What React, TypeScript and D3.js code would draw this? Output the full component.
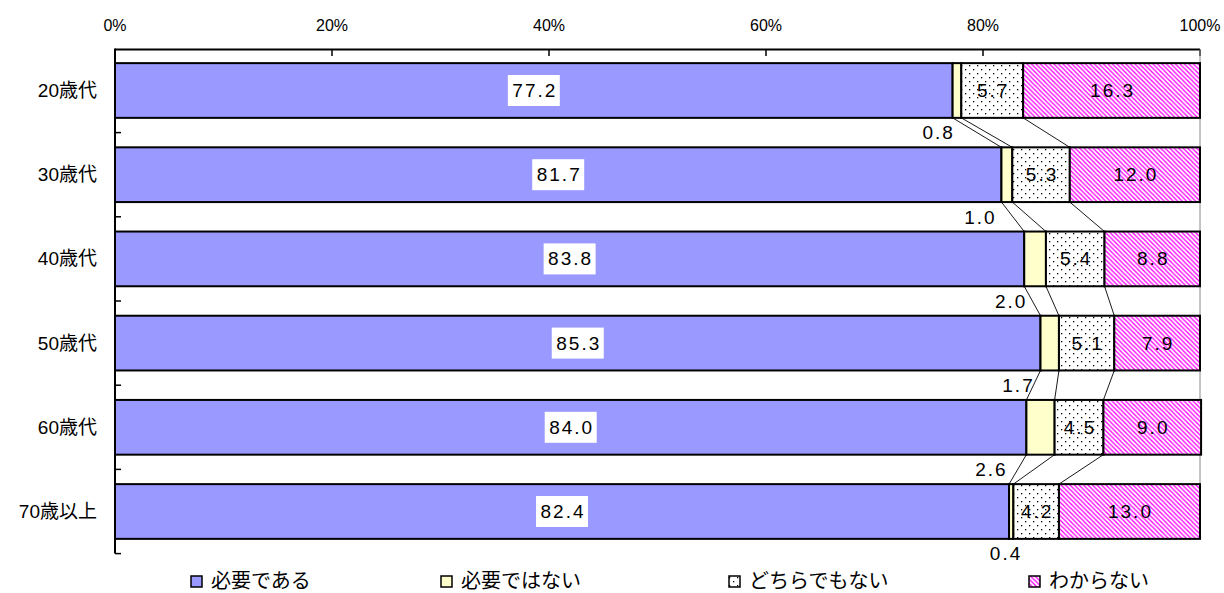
import React from "react";
import * as d3 from "d3";

// Age groups and answer shares (%)
const categories = ["20歳代", "30歳代", "40歳代", "50歳代", "60歳代", "70歳以上"];
const seriesNames = ["必要である", "必要ではない", "どちらでもない", "わからない"];
const needed = [77.2, 81.7, 83.8, 85.3, 84.0, 82.4];
const notNeeded = [0.8, 1.0, 2.0, 1.7, 2.6, 0.4];
const neither = [5.7, 5.3, 5.4, 5.1, 4.5, 4.2];
const unknown = [16.3, 12.0, 8.8, 7.9, 9.0, 13.0];
const xTicks = [0, 20, 40, 60, 80, 100];

// horizontal nudge (px) for the small "必要ではない" labels drawn under each bar
const smallLabelShift = [-15, -22, -14, -23, -36, -4];

const W = 1224;
const H = 593;
const left = 115;
const right = 1200;
const top = 48.4;
const bottom = 553.6;

const fills = ["#9999FF", "#FFFFCC", "url(#dots)", "url(#hatch)"];
const legendX = [191, 441, 729, 1029];

export default function App() {
  const x = d3.scaleLinear().domain([0, 100]).range([left, right]);
  const y = d3
    .scaleBand<string>()
    .domain(categories)
    .range([top, bottom])
    .paddingInner(0.35)
    .paddingOuter(0.175);
  const step = y.step();
  const bw = y.bandwidth();

  const values = categories.map((_, i) => [needed[i], notNeeded[i], neither[i], unknown[i]]);
  const rows = values.map((v, i) => {
    let acc = 0;
    const segs = v.map((val, k) => {
      const s = { k, v: val, x0: acc, x1: acc + val };
      acc += val;
      return s;
    });
    return { cat: categories[i], segs };
  });

  const font = "'Liberation Sans', Arial, 'Noto Sans CJK JP', sans-serif";
  const jpFont = "'Noto Sans CJK JP', 'Liberation Sans', sans-serif";

  // series lines between adjacent bars
  const seriesLines: { x1: number; y1: number; x2: number; y2: number }[] = [];
  for (let i = 0; i < rows.length - 1; i++) {
    for (let k = 0; k < 3; k++) {
      seriesLines.push({
        x1: x(rows[i].segs[k].x1),
        y1: (y(rows[i].cat) as number) + bw,
        x2: x(rows[i + 1].segs[k].x1),
        y2: y(rows[i + 1].cat) as number,
      });
    }
  }

  const boundaryYs = categories.map((c) => (y(c) as number) - step * 0.175).slice(1);
  boundaryYs.push(bottom);

  return (
    <svg
      width={W}
      height={H}
      style={{ position: "absolute", left: 0, top: 0, background: "#fff" }}
    >
      <defs>
        <pattern id="dots" width="8" height="8" patternUnits="userSpaceOnUse">
          <rect width="8" height="8" fill="#fff" />
          <rect x="1" y="1" width="1.3" height="1.3" fill="#000" />
          <rect x="5" y="5" width="1.3" height="1.3" fill="#000" />
        </pattern>
        <pattern id="hatch" width="4.5" height="4.5" patternUnits="userSpaceOnUse">
          <rect width="4.5" height="4.5" fill="#fff" />
          <path d="M-1,-1 L5.5,5.5 M-1,3.5 L1,5.5 M3.5,-1 L5.5,1" stroke="#FF00FF" strokeWidth="1.3" />
        </pattern>
      </defs>

      {/* top axis */}
      <line x1={left} x2={right} y1={49.5} y2={49.5} stroke="#000" strokeWidth={2} />
      {xTicks.map((t) => (
        <g key={t}>
          <line x1={x(t)} x2={x(t)} y1={49.5} y2={56} stroke="#000" strokeWidth={1.5} />
          <text
            x={x(t)}
            y={25}
            textAnchor="middle"
            dominantBaseline="central"
            fontFamily={font}
            fontSize={16}
            fill="#000"
          >
            {t}%
          </text>
        </g>
      ))}

      {/* right edge */}
      <line
        x1={right}
        x2={right}
        y1={49.5}
        y2={(y(categories[categories.length - 1]) as number) + bw}
        stroke="#888"
        strokeWidth={1}
      />

      {/* series lines */}
      {seriesLines.map((l, i) => (
        <line key={i} x1={l.x1} y1={l.y1} x2={l.x2} y2={l.y2} stroke="#000" strokeWidth={0.9} />
      ))}

      {/* bars */}
      {rows.map((r) => (
        <g key={r.cat}>
          {r.segs.map((s) => (
            <rect
              key={s.k}
              x={x(s.x0)}
              y={y(r.cat)}
              width={x(s.x1) - x(s.x0)}
              height={bw}
              fill={fills[s.k]}
              stroke="#000"
              strokeWidth={2}
            />
          ))}
        </g>
      ))}

      {/* left axis */}
      <line x1={left} x2={left} y1={top} y2={bottom} stroke="#000" strokeWidth={2} />
      {boundaryYs.map((by, i) => (
        <line key={i} x1={left} x2={left + 6} y1={by} y2={by} stroke="#000" strokeWidth={1.5} />
      ))}

      {/* category labels */}
      {categories.map((c) => (
        <text
          key={c}
          x={97}
          y={(y(c) as number) + bw / 2}
          textAnchor="end"
          dominantBaseline="central"
          fontFamily={font}
          fontSize={19}
          fill="#000"
        >
          {c}
        </text>
      ))}

      {/* value labels */}
      {rows.map((r, i) => {
        const cy = (y(r.cat) as number) + bw / 2;
        const s0 = r.segs[0];
        const s1 = r.segs[1];
        const s2 = r.segs[2];
        const s3 = r.segs[3];
        const cx0 = x((s0.x0 + s0.x1) / 2);
        return (
          <g key={r.cat} fontFamily={font} fontSize={19} fill="#000">
            <rect x={cx0 - 26} y={cy - 15.5} width={52} height={31} fill="#fff" />
            <text x={cx0 + 1} y={cy} textAnchor="middle" dominantBaseline="central" letterSpacing={2}>
              {s0.v.toFixed(1)}
            </text>
            <text
              x={x((s2.x0 + s2.x1) / 2) + 1}
              y={cy}
              textAnchor="middle"
              dominantBaseline="central"
              letterSpacing={2}
            >
              {s2.v.toFixed(1)}
            </text>
            <text
              x={x((s3.x0 + s3.x1) / 2) + 1}
              y={cy}
              textAnchor="middle"
              dominantBaseline="central"
              letterSpacing={2}
            >
              {s3.v.toFixed(1)}
            </text>
            <text
              x={x(s1.x0) + smallLabelShift[i] + 1}
              y={(y(r.cat) as number) + bw + 15}
              textAnchor="middle"
              dominantBaseline="central"
              letterSpacing={2}
            >
              {s1.v.toFixed(1)}
            </text>
          </g>
        );
      })}

      {/* legend */}
      {seriesNames.map((n, k) => (
        <g key={n}>
          <rect
            x={legendX[k]}
            y={576}
            width={11}
            height={11}
            fill={fills[k]}
            stroke="#000"
            strokeWidth={1.5}
          />
          <text x={legendX[k] + 20} y={588} fontFamily={jpFont} fontSize={20} fill="#000">
            {n}
          </text>
        </g>
      ))}
    </svg>
  );
}
